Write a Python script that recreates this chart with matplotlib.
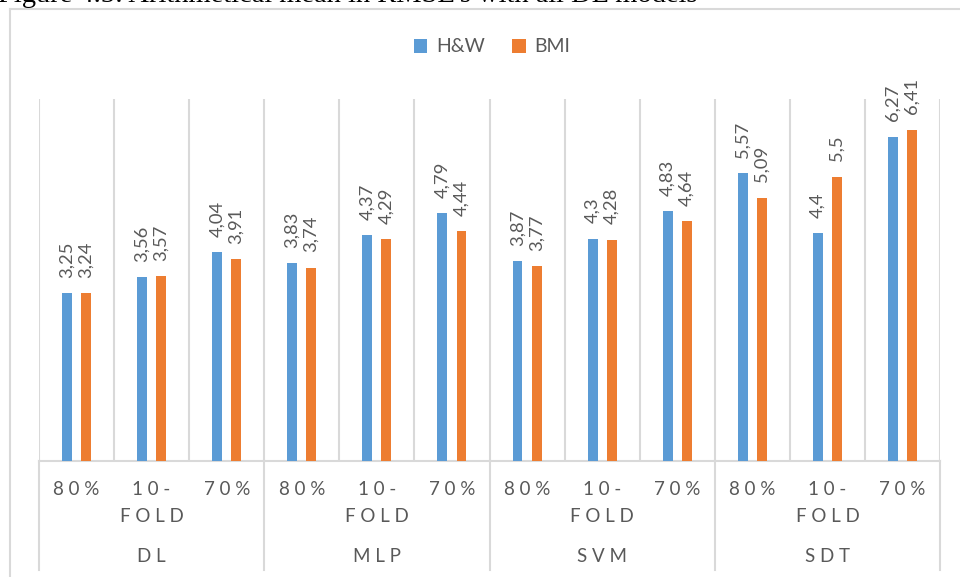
import matplotlib
matplotlib.use("Agg")
import matplotlib.pyplot as plt
from matplotlib.lines import Line2D
import numpy as np

# --- data -------------------------------------------------------------
models = ["DL", "MLP", "SVM", "SDT"]
splits = ["80%", "10-\nFOLD", "70%"]
hw_values = [3.25, 3.56, 4.04, 3.83, 4.37, 4.79, 3.87, 4.30, 4.83, 5.57, 4.40, 6.27]
bmi_values = [3.24, 3.57, 3.91, 3.74, 4.29, 4.44, 3.77, 4.28, 4.64, 5.09, 5.50, 6.41]
series_names = ["H&W", "BMI"]
caption = "Figure 4.5: Arithmetical mean in RMSE's with all DL models"

# --- style ------------------------------------------------------------
BLUE = "#5B9BD5"
ORANGE = "#ED7D31"
GRID = "#D9D9D9"
TEXT = "#595959"
FONT = ["Lato", "DejaVu Sans"]
plt.rcParams["font.family"] = FONT

W, H = 960, 577
fig = plt.figure(figsize=(W / 100, H / 100), dpi=100)

def fx(px):
    return px / W

def fy(py):
    return 1 - py / H

# caption line running off the top edge
fig.text(fx(-2), fy(2), caption, family=["Liberation Serif", "DejaVu Serif"],
         fontsize=20.5, color="black", ha="left", va="baseline")

# chart frame
fig.add_artist(Line2D([fx(10), fx(10)], [fy(9), fy(H + 5)], color=GRID, lw=1.5))
fig.add_artist(Line2D([fx(10), fx(W + 5)], [fy(9), fy(9)], color=GRID, lw=1.5))

left, right, top, base = 39, 940, 99, 461
ax = fig.add_axes([fx(left), fy(base), fx(right - left), fy(top) - fy(base)])

n = len(hw_values)
x = np.arange(n)
bw = 0.133
off = 0.127
b1 = ax.bar(x - off, hw_values, bw, color=BLUE, label=series_names[0], zorder=3)
b2 = ax.bar(x + off, bmi_values, bw, color=ORANGE, label=series_names[1], zorder=3)

ax.set_xlim(-0.5, n - 0.5)
ax.set_ylim(0, 7)
for s in ax.spines.values():
    s.set_visible(False)
ax.set_xticks([])
ax.set_yticks([])

# vertical gridlines between categories
for e in np.arange(-0.5, n, 1.0):
    ax.axvline(e, color=GRID, lw=1.5, zorder=1)
ax.axhline(0, color=GRID, lw=1.5, zorder=2, clip_on=False)

def fmt(v):
    return f"{v:g}".replace(".", ",")

for bars, vals in ((b1, hw_values), (b2, bmi_values)):
    for rect, v in zip(bars, vals):
        ax.annotate(fmt(v), (rect.get_x() + rect.get_width() / 2, v),
                    xytext=(0, 11), textcoords="offset points",
                    rotation=90, ha="center", va="bottom",
                    fontsize=13.2, color=TEXT)

# two-level category axis below the bars
def spaced(s):
    return "\n".join(" ".join(part) for part in s.split("\n"))

trans = ax.get_xaxis_transform()
px_per_axes = base - top

def ay(py):
    return (base - py) / px_per_axes

for i in range(n):
    ax.text(i, ay(481), spaced(splits[i % len(splits)]), transform=trans,
            ha="center", va="top", fontsize=13.5, color=TEXT,
            linespacing=1.7)

groups = len(models)
per = len(splits)
for g, name in enumerate(models):
    ax.text(g * per + (per - 1) / 2, ay(557), spaced(name), transform=trans,
            ha="center", va="center", fontsize=13.5, color=TEXT)
for g in range(groups + 1):
    e = g * per - 0.5
    ax.add_line(Line2D([e, e], [0, ay(570)], transform=trans, color=GRID,
                       lw=1.5, clip_on=False))

# legend
leg = fig.legend(handles=[b1, b2], labels=series_names, loc="center",
                 bbox_to_anchor=(fx(492), fy(47)), ncol=2, frameon=False,
                 fontsize=14, handlelength=0.7, handleheight=0.7,
                 handletextpad=0.45, columnspacing=1.4)
for t in leg.get_texts():
    t.set_color(TEXT)

fig.savefig("out.png", dpi=100, facecolor="white")
